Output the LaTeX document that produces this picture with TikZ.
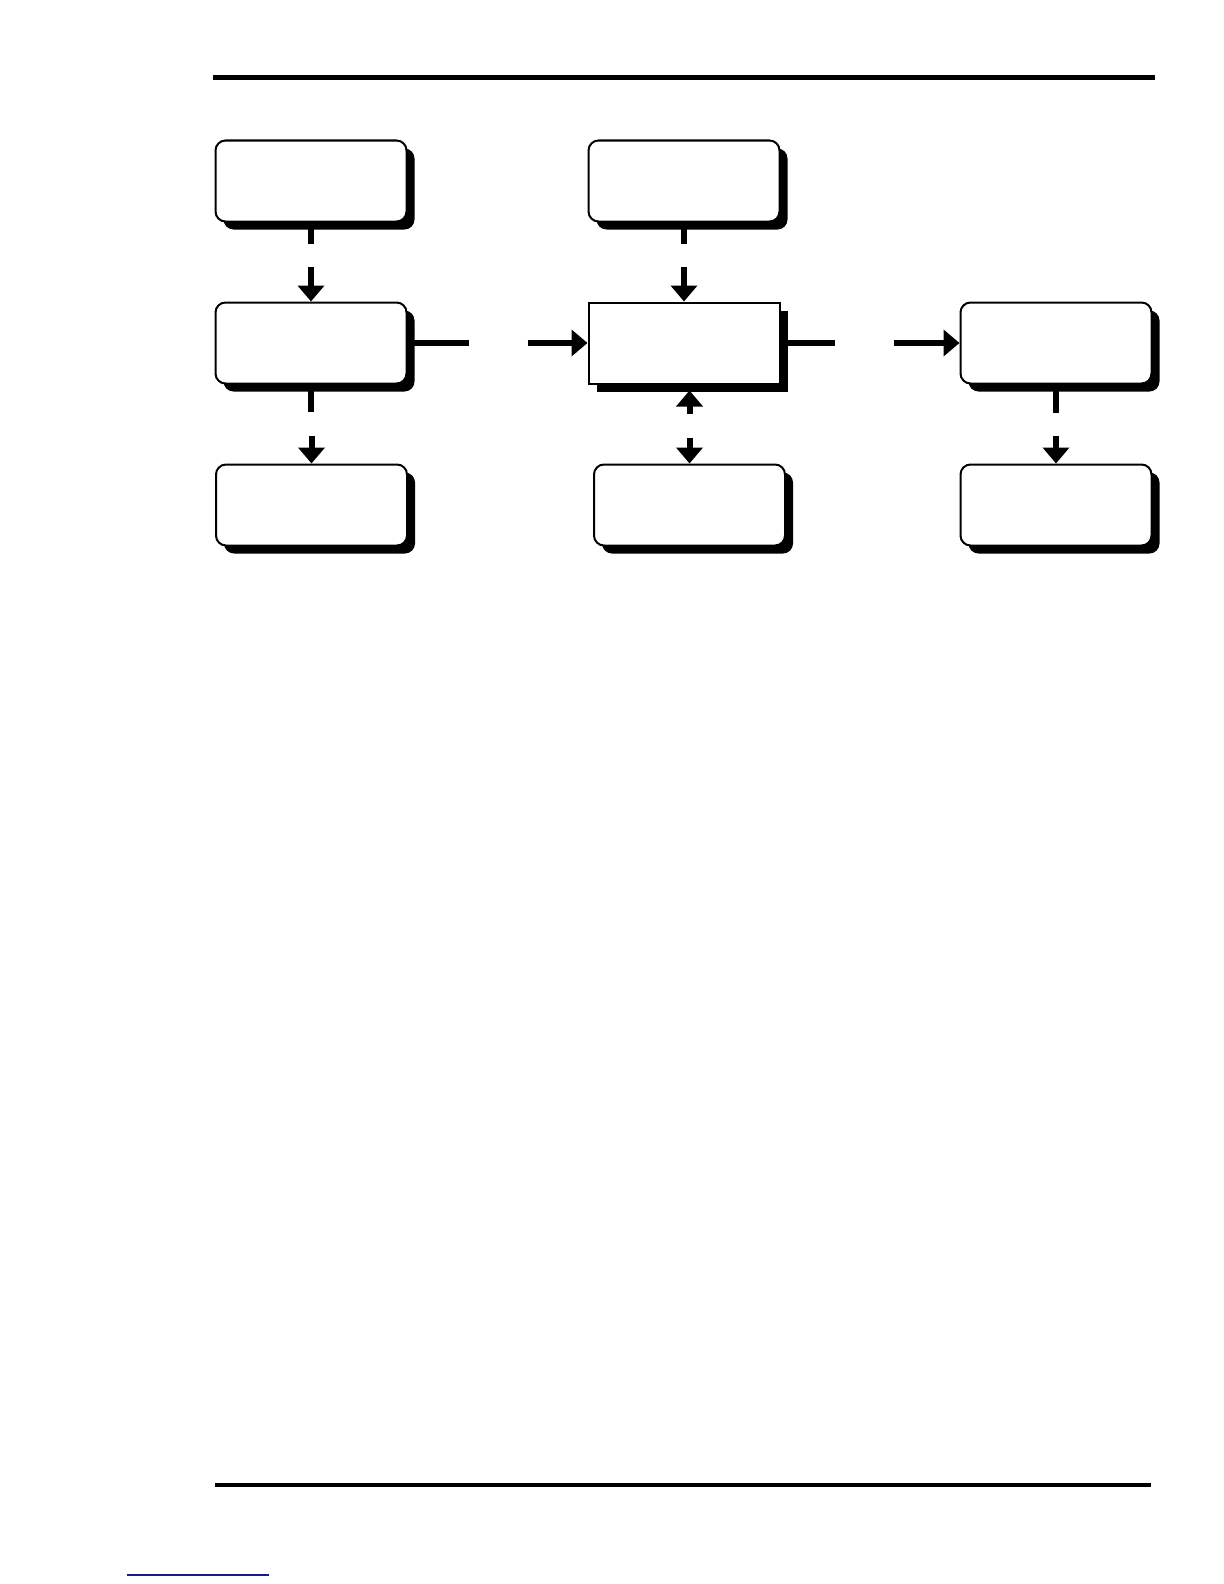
\documentclass[tikz,border=0pt]{standalone}
\usetikzlibrary{arrows.meta,shadows,calc}
\definecolor{linkblue}{RGB}{25,25,150}
\begin{document}
\begin{tikzpicture}[x=0.5pt,y=-0.5pt,
  box/.style={draw=black, line width=1pt, fill=white,
    minimum width=95.5pt, minimum height=40.5pt, inner sep=0pt,
    drop shadow={shadow xshift=4pt, shadow yshift=-4pt, fill=black, opacity=1}},
  rbox/.style={box, rounded corners=5pt},
  link/.style={line width=3pt, draw=black},
  arr/.style={link, -{Triangle[length=8pt,width=13pt]}},
  rule/.style={draw=black}
]
\fill[white] (0,0) rectangle (1224,1584);
\useasboundingbox (0,0) rectangle (1224,1584);

% page rules
\draw[rule, line width=2.5pt] (213,78) -- (1155,78);
\draw[rule, line width=1.7pt] (215,1485) -- (1151,1485);
\draw[draw=linkblue, line width=0.9pt] (127,1575) -- (269,1575);

% boxes
\node[rbox] (A) at (311,181) {};
\node[rbox] (D) at (684,181) {};
\node[rbox] (B) at (311,343) {};
\node[box]  (C) at (684,343) {};
\node[rbox] (E) at (1056,343) {};
\node[rbox] (H) at (311.5,505) {};
\node[rbox] (F) at (689.5,505) {};
\node[rbox] (G) at (1056,505) {};

% A -> B
\coordinate (ab1) at ($(A.south)+(0,21)$);
\coordinate (ab2) at ($(B.north)+(0,-35)$);
\draw[link] (A.south) -- (ab1);
\draw[arr] (ab2) -- (B.north);

% D -> C
\coordinate (dc1) at ($(D.south)+(0,21)$);
\coordinate (dc2) at ($(C.north)+(0,-35)$);
\draw[link] (D.south) -- (dc1);
\draw[arr] (dc2) -- (C.north);

% B -> H
\coordinate (bh1) at ($(B.south)+(0,27)$);
\coordinate (bh2) at ($(H.north)+(0,-28)$);
\draw[link] (B.south) -- (bh1);
\draw[arr] (bh2) -- (H.north);

% E -> G
\coordinate (eg1) at ($(E.south)+(0,28)$);
\coordinate (eg2) at ($(G.north)+(0,-28)$);
\draw[link] (E.south) -- (eg1);
\draw[arr] (eg2) -- (G.north);

% F <-> C
\coordinate (fc1) at ($(F.north)+(0,-26)$);
\coordinate (fc2) at ($(F.north)+(0,-50)$);
\coordinate (fc3) at ($(F.north |- C.south)+(0,6)$);
\draw[arr] (fc1) -- (F.north);
\draw[arr] (fc2) -- (fc3);

% B -> C
\coordinate (bc1) at ($(B.east)+(61,0)$);
\coordinate (bc2) at ($(C.west)+(-60,0)$);
\draw[link] (B.east) -- (bc1);
\draw[arr] (bc2) -- (C.west);

% C -> E
\coordinate (ce1) at ($(C.east)+(54,0)$);
\coordinate (ce2) at ($(E.west)+(-66,0)$);
\draw[link] (C.east) -- (ce1);
\draw[arr] (ce2) -- (E.west);
\end{tikzpicture}
\end{document}
